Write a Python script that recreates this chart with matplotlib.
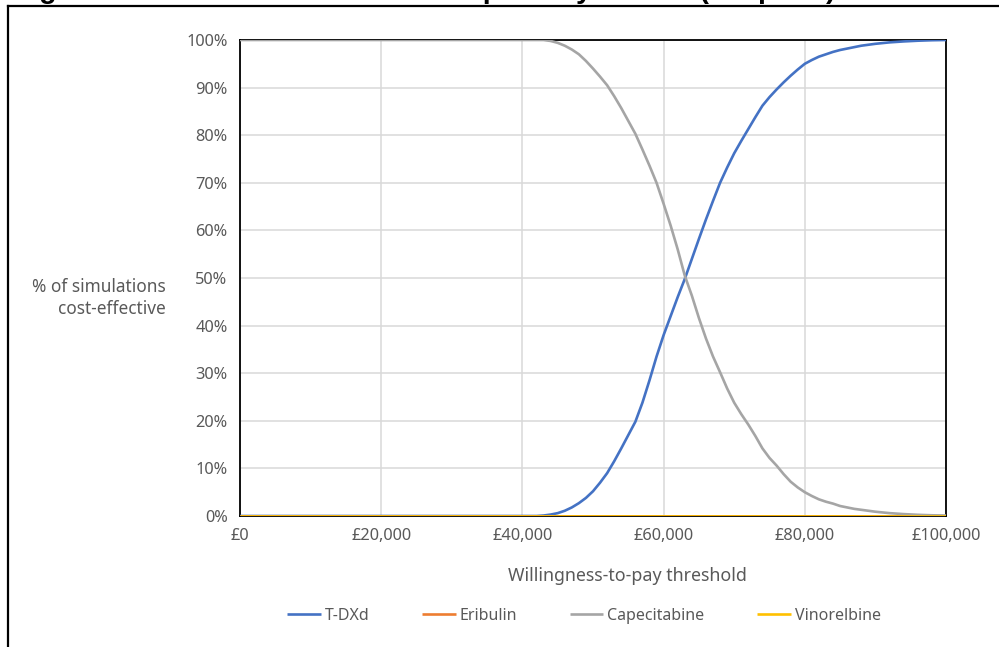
import matplotlib
matplotlib.use("Agg")
import matplotlib.pyplot as plt
from matplotlib.lines import Line2D
from matplotlib.ticker import FuncFormatter, MultipleLocator

plt.rcParams['font.family'] = ['Noto Sans', 'DejaVu Sans']

# Willingness-to-pay thresholds (£ thousands)
wtp_k = [0, 10, 20, 30, 40, 42, 43, 44, 45, 46, 47, 48, 49, 50, 51, 52, 53, 54, 55, 56,
         57, 58, 59, 60, 61, 62, 63, 64, 65, 66, 67, 68, 69, 70, 71, 72, 73, 74, 75,
         76, 77, 78, 79, 80, 81, 82, 83, 84, 85, 86, 87, 88, 89, 90, 92, 94, 96, 98, 100]

tdxd = [0, 0, 0, 0, 0, 0, 0.1, 0.3, 0.6, 1.1, 1.8, 2.7, 3.8, 5.2, 7.0, 9.0, 11.5, 14.2,
        17.0, 19.8, 23.8, 28.5, 33.5, 38.0, 42.0, 46.0, 49.8, 54.0, 58.2, 62.3, 66.2,
        70.0, 73.2, 76.2, 78.8, 81.3, 83.8, 86.2, 88.0, 89.6, 91.1, 92.5, 93.8, 95.0,
        95.8, 96.5, 97.0, 97.5, 97.9, 98.2, 98.5, 98.8, 99.0, 99.2, 99.5, 99.7, 99.85,
        99.95, 100]

eribulin = [0] * len(wtp_k)

capecitabine = [100, 100, 100, 100, 100, 100, 100, 99.8, 99.4, 98.8, 98.0, 97.0, 95.6,
                94.0, 92.3, 90.5, 88.2, 85.7, 83.0, 80.3, 77.0, 73.6, 70.0, 65.6, 61.0,
                56.0, 50.5, 46.3, 41.6, 37.3, 33.5, 30.2, 26.8, 23.8, 21.4, 19.2, 16.8,
                14.2, 12.2, 10.6, 8.8, 7.2, 6.0, 5.0, 4.2, 3.5, 3.0, 2.6, 2.1, 1.8, 1.5,
                1.3, 1.1, 0.9, 0.6, 0.4, 0.25, 0.15, 0.1]

vinorelbine = [0] * len(wtp_k)

series_names = ["T-DXd", "Eribulin", "Capecitabine", "Vinorelbine"]
series_colors = ["#4472C4", "#ED7D31", "#A5A5A5", "#FFC000"]

W, H = 999, 647
fig = plt.figure(figsize=(W / 100, H / 100), dpi=100)
ax = fig.add_axes([240 / W, (H - 516) / H, (946 - 240) / W, (516 - 40) / H])

wtp = [k * 1000 for k in wtp_k]
for name, vals, col in zip(series_names, [tdxd, eribulin, capecitabine, vinorelbine], series_colors):
    ax.plot(wtp, vals, color=col, lw=1.9, label=name, zorder=3, solid_capstyle='butt')

ax.set_xlim(0, 100000)
ax.set_ylim(0, 100)
ax.xaxis.set_major_locator(MultipleLocator(20000))
ax.yaxis.set_major_locator(MultipleLocator(10))
ax.xaxis.set_major_formatter(FuncFormatter(lambda v, p: "£{:,.0f}".format(v)))
ax.yaxis.set_major_formatter(FuncFormatter(lambda v, p: "{:.0f}%".format(v)))
ax.grid(True, color="#D9D9D9", lw=1.1, zorder=0)
ax.set_axisbelow(True)
ax.tick_params(length=0, labelsize=11.8, colors="#595959")
ax.tick_params(axis='y', pad=9)
ax.tick_params(axis='x', pad=9)
for s in ax.spines.values():
    s.set_color("black")
    s.set_linewidth(1.3)
    s.set_zorder(2)

ax.set_xlabel("Willingness-to-pay threshold", fontsize=12.8, color="#595959", labelpad=17)
ax.xaxis.set_label_coords((627 - 240) / (946 - 240), -((576 - 516) / (516 - 40)))
ax.xaxis.label.set_va('center')
fig.text(166 / W, 1 - 298 / H, "% of simulations\ncost-effective", ha='right', va='center',
         fontsize=12.4, color="#595959", linespacing=1.25)

fig.legend(loc='center', bbox_to_anchor=(584 / W, 1 - 616 / H), ncol=4, frameon=False,
           fontsize=11.5, labelcolor="#595959", handlelength=2.1, handletextpad=0.25,
           columnspacing=3.3)

# outer frame (partially visible box)
fig.add_artist(Line2D([8 / W, 1.0], [1 - 6 / H, 1 - 6 / H], color='black', lw=1.6,
                      transform=fig.transFigure))
fig.add_artist(Line2D([8 / W, 8 / W], [0, 1 - 6 / H], color='black', lw=1.6,
                      transform=fig.transFigure))

# title cut off at the top edge
fig.text(14 / W, 1 + 2.5 / H, "Figure 26: Cost-effectiveness acceptability curves (list price)",
         ha='left', va='baseline', fontsize=20.5, fontweight='bold', color='black',
         family=['Liberation Sans', 'DejaVu Sans'])

fig.savefig("out.png", dpi=100)
